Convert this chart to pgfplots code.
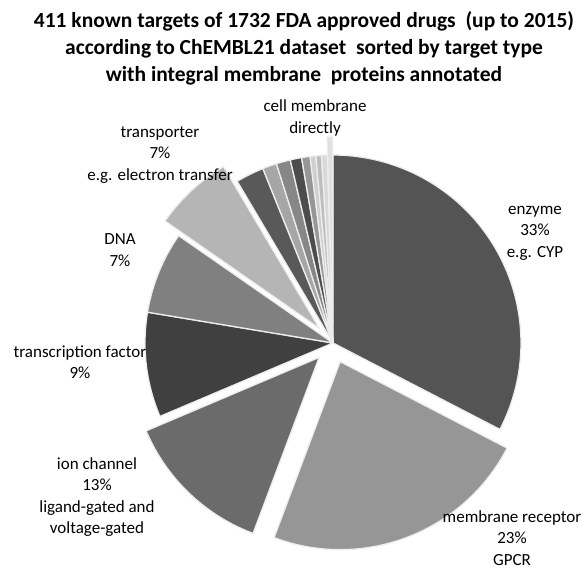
\documentclass[border=0pt]{standalone}
\usepackage{fontspec}
\setmainfont{Carlito}
\usepackage{pgfplots}
\pgfplotsset{compat=1.18}

\tikzset{lbl/.style={align=center, font=\fontsize{17}{21.5}\selectfont, inner sep=0pt}}

% counts out of 411 targets, drawn clockwise from 12 o'clock
% \slice{from}{to}{explode}{fill}
\newcommand\slice[4]{%
  \addplot[fill=#4, draw=black!7, line width=1.3pt, line join=round,
    domain=90-360*#2/411:90-360*#1/411, samples=80]
    ({333+#3*cos(90-180*(#1+#2)/411)+188*cos(x)},
     {226+#3*sin(90-180*(#1+#2)/411)+188*sin(x)})
    -- ({333+#3*cos(90-180*(#1+#2)/411)},{226+#3*sin(90-180*(#1+#2)/411)}) -- cycle;
}

\begin{document}
\begin{tikzpicture}
\begin{axis}[
    hide axis, scale only axis,
    width=584pt, height=569pt,
    xmin=0, xmax=584, ymin=0, ymax=569,
    clip=false,
  ]
  \slice{0}{134}{0}{black!67}      % enzyme
  \slice{134}{229}{20}{black!41}   % membrane receptor
  \slice{229}{282}{20}{black!58}   % ion channel
  \slice{282}{319}{0}{black!75}    % transcription factor
  \slice{319}{348}{0}{black!50}    % DNA
  \slice{348}{376}{20}{black!29}   % transporter
  \slice{376}{386}{0}{black!65}
  \slice{386}{391}{0}{black!35}
  \slice{391}{396}{0}{black!47}
  \slice{396}{400}{0}{black!70}
  \slice{400}{403}{0}{black!41}
  \slice{403}{405}{0}{black!19}
  \slice{405}{407}{0}{black!26}
  \slice{407}{409}{0}{black!15}
  \slice{409}{411}{18}{black!12}   % cell membrane directly

  \node[lbl, font=\bfseries\fontsize{21.5}{27}\selectfont] at (304,521)
    {411 known targets of 1732 FDA approved drugs~ (up to 2015)\\
     according to ChEMBL21 dataset~ sorted by target type\\
     with integral membrane~ proteins annotated};
  \node[lbl] at (315,451) {cell membrane\\directly};
  \node[lbl] at (160,414) {transporter\\7\%\\e.g. electron transfer};
  \node[lbl] at (120,319) {DNA\\7\%};
  \node[lbl] at (80,207) {transcription factor\\9\%};
  \node[lbl] at (97,72) {ion channel\\13\%\\ligand-gated and\\voltage-gated};
  \node[lbl] at (535,336) {enzyme\\33\%\\e.g. CYP};
  \node[lbl] at (512,31) {membrane receptor\\23\%\\GPCR};
\end{axis}
\pgfresetboundingbox
\path (current axis.south west) rectangle (current axis.north east);
\end{tikzpicture}
\end{document}
